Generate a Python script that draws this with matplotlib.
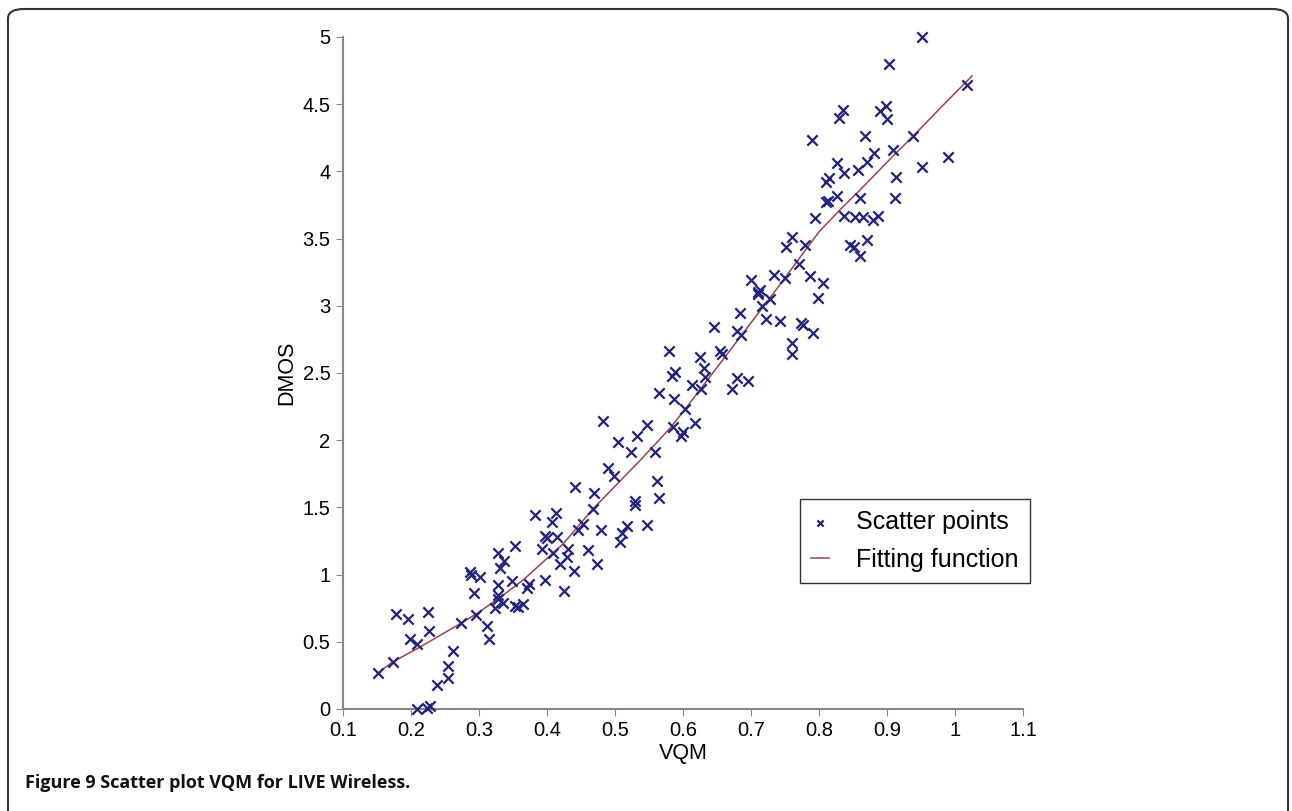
import matplotlib.pyplot as plt
from matplotlib.patches import FancyBboxPatch

plt.rcParams['font.family'] = ['Liberation Sans', 'DejaVu Sans']

# VQM / DMOS scatter values
vqm = [0.152, 0.173, 0.178, 0.196, 0.198, 0.209, 0.209, 0.224, 0.228, 0.225,
       0.227, 0.238, 0.254, 0.255, 0.262, 0.274, 0.287, 0.288, 0.292, 0.296,
       0.302, 0.312, 0.314, 0.323, 0.328, 0.328, 0.331, 0.337, 0.328, 0.335,
       0.349, 0.353, 0.358, 0.353, 0.328,
       0.483, 0.505, 0.532, 0.523, 0.489, 0.499, 0.441, 0.469, 0.529, 0.530,
       0.467, 0.382, 0.413, 0.408, 0.453, 0.446, 0.479, 0.517, 0.510, 0.507,
       0.397, 0.400, 0.415, 0.392, 0.409, 0.431, 0.461, 0.419, 0.430, 0.474,
       0.439, 0.374, 0.370, 0.397, 0.425, 0.365,
       0.700, 0.711, 0.684, 0.646, 0.679, 0.686, 0.580, 0.625, 0.654, 0.658,
       0.631, 0.588, 0.584, 0.632, 0.613, 0.627, 0.679, 0.695, 0.672, 0.564,
       0.587, 0.603, 0.547, 0.618, 0.586, 0.600, 0.597, 0.559, 0.562, 0.565,
       0.547,
       0.836, 0.830, 0.899, 0.890, 0.900, 0.790, 0.867, 0.909, 0.881, 0.827,
       0.870, 0.858, 0.837, 0.815, 0.810, 0.913, 0.827, 0.813, 0.810, 0.860,
       0.912, 0.794, 0.837, 0.853, 0.864, 0.880, 0.887, 0.761, 0.751, 0.779,
       0.846, 0.852, 0.871, 0.860, 0.771, 0.734, 0.750, 0.787, 0.806, 0.713,
       0.716, 0.728, 0.799, 0.722, 0.743, 0.773, 0.777, 0.710,
       0.951, 0.903, 1.017, 0.938, 0.952, 0.990, 0.791, 0.760, 0.760]
dmos = [0.27, 0.35, 0.71, 0.67, 0.52, 0.48, 0.00, 0.01, 0.02, 0.72,
        0.58, 0.18, 0.32, 0.23, 0.43, 0.64, 1.02, 1.00, 0.86, 0.70,
        0.98, 0.62, 0.52, 0.75, 0.92, 1.16, 1.05, 1.10, 0.82, 0.79,
        0.95, 0.77, 0.76, 1.21, 0.85,
        2.14, 1.99, 2.03, 1.91, 1.79, 1.73, 1.65, 1.61, 1.55, 1.52,
        1.49, 1.44, 1.46, 1.39, 1.38, 1.33, 1.33, 1.36, 1.31, 1.24,
        1.29, 1.27, 1.28, 1.19, 1.16, 1.19, 1.18, 1.08, 1.13, 1.08,
        1.03, 0.93, 0.90, 0.96, 0.88, 0.78,
        3.19, 3.10, 2.95, 2.84, 2.81, 2.78, 2.66, 2.62, 2.66, 2.64,
        2.54, 2.51, 2.48, 2.47, 2.41, 2.38, 2.46, 2.44, 2.38, 2.35,
        2.31, 2.23, 2.11, 2.13, 2.10, 2.06, 2.03, 1.91, 1.70, 1.57,
        1.37,
        4.46, 4.40, 4.49, 4.45, 4.39, 4.23, 4.26, 4.16, 4.14, 4.06,
        4.07, 4.01, 3.99, 3.95, 3.92, 3.96, 3.82, 3.78, 3.77, 3.80,
        3.80, 3.65, 3.67, 3.66, 3.66, 3.64, 3.67, 3.51, 3.44, 3.45,
        3.45, 3.44, 3.49, 3.37, 3.31, 3.23, 3.21, 3.22, 3.17, 3.12,
        3.00, 3.05, 3.06, 2.90, 2.89, 2.87, 2.86, 3.09,
        5.00, 4.80, 4.64, 4.26, 4.03, 4.11, 2.80, 2.72, 2.64]

# fitting curve
fit_x = [0.152, 0.173, 0.213, 0.274, 0.297, 0.331, 0.365, 0.424, 0.466,
         0.537, 0.581, 0.603, 0.686, 0.740, 0.775, 0.800, 0.830, 0.860,
         0.910, 0.938, 0.980, 1.025]
fit_y = [0.27, 0.35, 0.46, 0.64, 0.71, 0.83, 0.96, 1.23, 1.48,
         1.85, 2.09, 2.23, 2.78, 3.14, 3.38, 3.55, 3.71, 3.86,
         4.12, 4.26, 4.48, 4.71]

xticks = [0.1, 0.2, 0.3, 0.4, 0.5, 0.6, 0.7, 0.8, 0.9, 1, 1.1]
xtick_labels = ['0.1', '0.2', '0.3', '0.4', '0.5', '0.6', '0.7', '0.8', '0.9', '1', '1.1']
yticks = [0, 0.5, 1, 1.5, 2, 2.5, 3, 3.5, 4, 4.5, 5]
ytick_labels = ['0', '0.5', '1', '1.5', '2', '2.5', '3', '3.5', '4', '4.5', '5']

fig = plt.figure(figsize=(12.92, 8.11), dpi=100)
ax = fig.add_axes([343 / 1292, 1 - 709 / 811, 680 / 1292, 672 / 811])

ax.scatter(vqm, dmos, marker='x', s=55, color='#22227a', linewidths=1.6,
           label='Scatter points', zorder=3, clip_on=False)
ax.plot(fit_x, fit_y, color='#a04050', linewidth=1.1, label='Fitting function', zorder=2)

ax.set_xlim(0.1, 1.1)
ax.set_ylim(0, 5)
ax.set_xticks(xticks)
ax.set_xticklabels(xtick_labels)
ax.set_yticks(yticks)
ax.set_yticklabels(ytick_labels)
ax.tick_params(direction='out', length=5, color='#888888', labelsize=14.5, pad=4)
for side in ['top', 'right']:
    ax.spines[side].set_visible(False)
for side in ['left', 'bottom']:
    ax.spines[side].set_color('#888888')
    ax.spines[side].set_linewidth(1.5)
ax.set_xlabel('VQM', fontsize=15.5, labelpad=2)
ax.set_ylabel('DMOS', fontsize=15.5, labelpad=4)

leg = ax.legend(loc='upper left', bbox_to_anchor=((800 - 343) / 680, (709 - 499) / 672),
                fontsize=18, frameon=True, fancybox=False, edgecolor='black',
                handlelength=0.7, handletextpad=1.1, borderpad=0.45, labelspacing=0.55,
                markerscale=0.6, borderaxespad=0)
leg.get_frame().set_linewidth(1.0)

# rounded frame around the figure
frame = FancyBboxPatch((8 / 1292, -0.05), 1280 / 1292, 1 - 9 / 811 + 0.05,
                       boxstyle='round,pad=0,rounding_size=0.012',
                       transform=fig.transFigure, fill=False,
                       edgecolor='#333333', linewidth=1.5)
fig.patches.append(frame)

fig.text(25 / 1292, 1 - 783 / 811, 'Figure 9 Scatter plot VQM for LIVE Wireless.',
         fontsize=13, fontweight='bold', family=['Open Sans', 'DejaVu Sans'],
         va='center', ha='left', color='#111111')

fig.savefig('out.png', dpi=100)
